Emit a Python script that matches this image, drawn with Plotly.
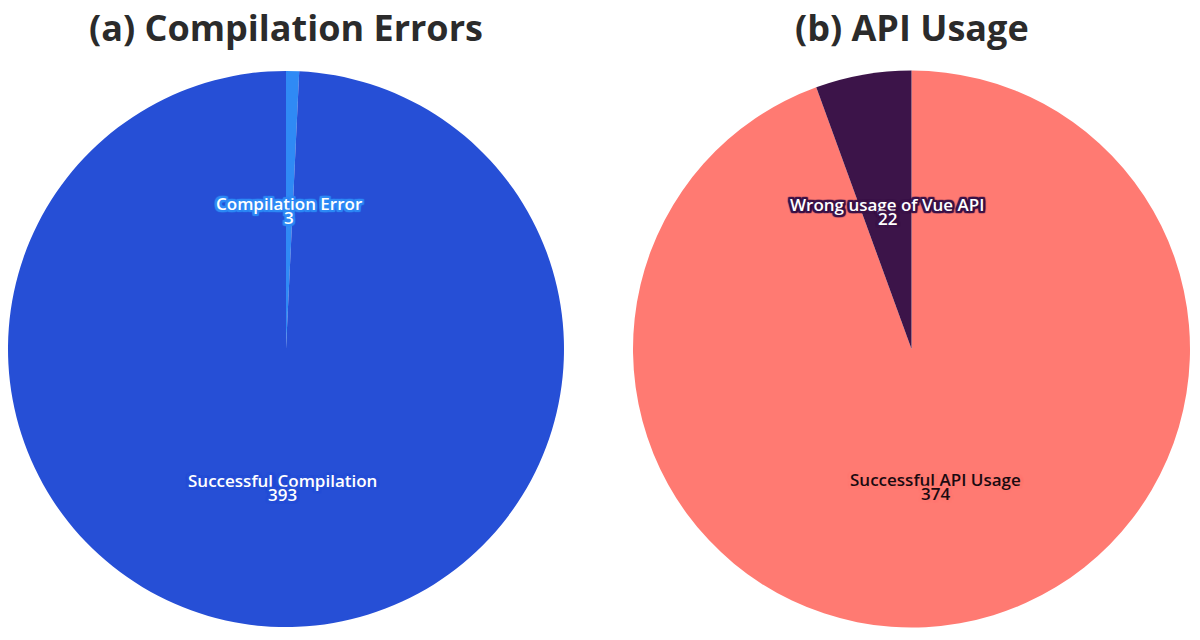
import math
import plotly.graph_objects as go

# ---- data ----
comp_labels = ["Compilation Error", "Successful Compilation"]
comp_values = [3, 393]
comp_colors = ["#2F8AF5", "#264FD6"]

api_labels = ["Successful API Usage", "Wrong usage of Vue API"]
api_values = [374, 22]
api_colors = ["#FF7A72", "#3C1449"]

titles = ["(a) Compilation Errors", "(b) API Usage"]

W, H = 1200, 640
FONT = "Open Sans"


def X(px):
    return px / W


def Y(py):
    return 1 - py / H


doms = [(8, 564), (633, 1190)]
top_px, bot_px = 70, 628

fig = go.Figure()


def outline(color, w=2):
    parts = []
    for dx in range(-w, w + 1):
        for dy in range(-w, w + 1):
            if dx == 0 and dy == 0:
                continue
            parts.append(f"{dx}px {dy}px 1px {color}")
    return ", ".join(parts)


specs = [
    (comp_labels, comp_values, comp_colors,
     [("white", "#2F8AF5"), ("white", "#264FD6")]),
    (api_labels, api_values, api_colors,
     [("#1a0a10", "#FF7A72"), ("white", "#3C1449")]),
]

for i, (labels, values, colors, txtstyle) in enumerate(specs):
    x0, x1 = doms[i]
    fig.add_trace(go.Pie(
        labels=labels, values=values,
        marker=dict(colors=colors, line=dict(width=0)),
        sort=False, direction="clockwise", rotation=0,
        textinfo="none", hoverinfo="label+value",
        showlegend=False,
        domain=dict(x=[X(x0), X(x1)], y=[Y(bot_px), Y(top_px)]),
    ))
    cx = (x0 + x1) / 2
    cy = (top_px + bot_px) / 2
    r = min(x1 - x0, bot_px - top_px) / 2
    total = sum(values)
    cum = 0
    for lab, v, (tc, oc) in zip(labels, values, txtstyle):
        mid = (cum + v / 2) / total * 2 * math.pi
        cum += v
        px = cx + 0.5 * r * math.sin(mid)
        py = cy - 0.5 * r * math.cos(mid)
        for txt, dy in ((lab, -7), (str(v), 7)):
            fig.add_annotation(
                x=X(px), y=Y(py + dy), xref="paper", yref="paper",
                text=txt, showarrow=False,
                xanchor="center", yanchor="middle",
                font=dict(family=FONT, size=17, color=tc, weight=600,
                          shadow=outline(oc)),
            )
    fig.add_annotation(
        x=X(cx), y=Y(28), xref="paper", yref="paper",
        text=titles[i], showarrow=False, xanchor="center", yanchor="middle",
        font=dict(family=FONT, size=36, color="#2b2b2b", weight=700),
    )

fig.update_layout(
    width=W, height=H,
    margin=dict(l=0, r=0, t=0, b=0),
    paper_bgcolor="white", plot_bgcolor="white",
)

html = fig.to_html(include_plotlyjs=True, full_html=True,
                   config={"displayModeBar": False})
html = html.replace("<body>", '<body style="margin:0;">', 1)
with open("out.html", "w", encoding="utf-8") as f:
    f.write(html)
